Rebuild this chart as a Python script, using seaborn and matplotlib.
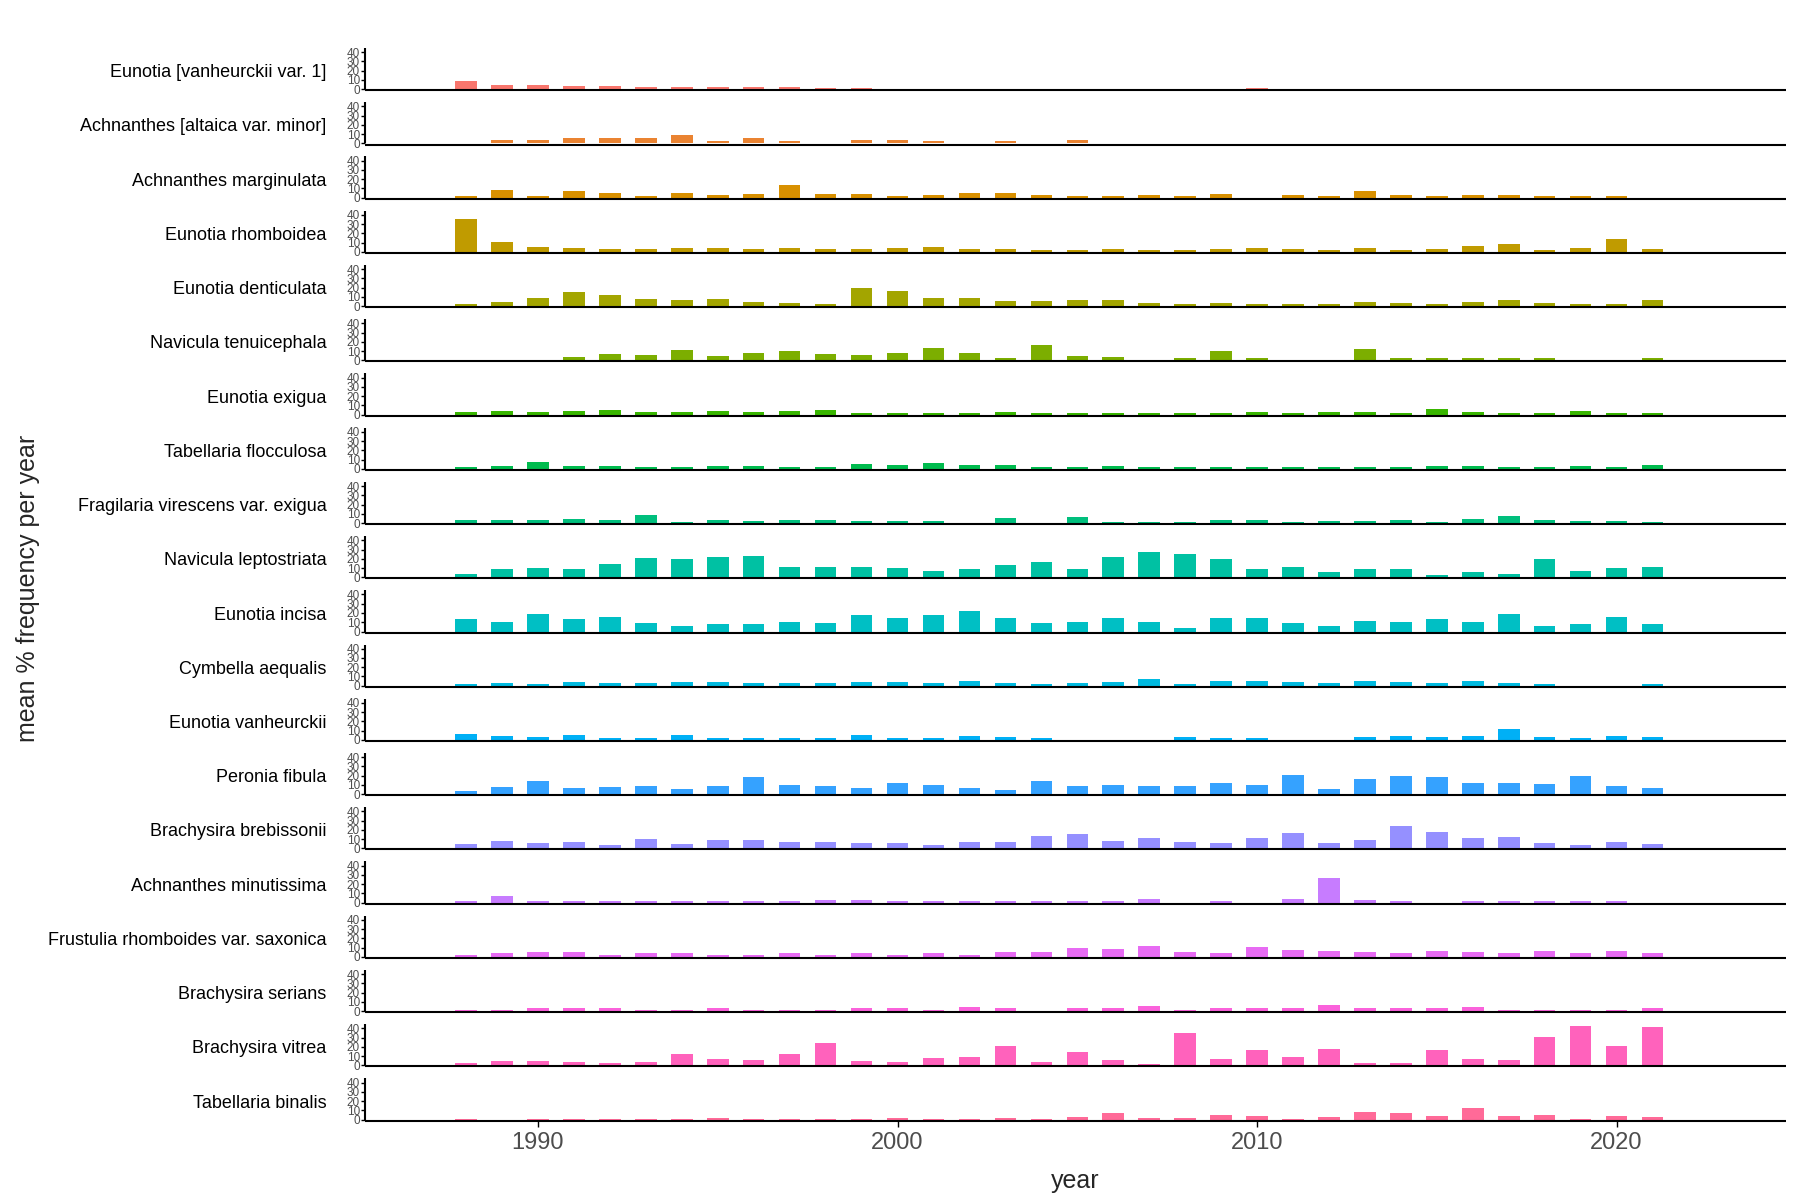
import numpy as np
import pandas as pd
import matplotlib
matplotlib.use("Agg")
import matplotlib.pyplot as plt
import seaborn as sns

N = None
years = list(range(1988, 2022))

species = [
    "Eunotia [vanheurckii var. 1]",
    "Achnanthes [altaica var. minor]",
    "Achnanthes marginulata",
    "Eunotia rhomboidea",
    "Eunotia denticulata",
    "Navicula tenuicephala",
    "Eunotia exigua",
    "Tabellaria flocculosa",
    "Fragilaria virescens var. exigua",
    "Navicula leptostriata",
    "Eunotia incisa",
    "Cymbella aequalis",
    "Eunotia vanheurckii",
    "Peronia fibula",
    "Brachysira brebissonii",
    "Achnanthes minutissima",
    "Frustulia rhomboides var. saxonica",
    "Brachysira serians",
    "Brachysira vitrea",
    "Tabellaria binalis",
]

eunotia_vh1 = [9.3, 4.8, 4.8, 3.7, 3.7, 2.6, 2.6, 2.6, 2.6, 2.6, 1.5, 1.5,
               N, N, N, N, N, N, N, N, N, N, 1.5, N, N, N, N, N, N, N, N, N, N, N]
achn_altaica = [N, 3.3, 3.3, 5.5, 5.5, 5.5, 8.9, 2.2, 5.5, 2.2, N, 3.3, 3.3, 2.2, N, 2.2, N, 3.3,
                N, N, N, N, N, N, N, N, N, N, N, N, N, N, N, N]
achn_marginulata = [2.2, 7.8, 2.2, 6.7, 5.5, 2.2, 5.5, 3.3, 4.4, 13.3, 4.4, 4.4, 2.2, 3.3, 5.5, 5.5,
                    3.3, 2.2, 2.2, 3.3, 2.2, 4.4, N, 3.3, 2.2, 6.7, 3.3, 2.2, 3.3, 3.3, 2.2, 2.2, 2.2, N]
eunotia_rhomboidea = [35, 10.7, 5.2, 4, 3, 3, 4, 4, 3, 4, 3, 3, 4, 5.2, 3, 3,
                      1.9, 1.9, 3, 1.9, 1.9, 3, 4, 3, 1.9, 4, 1.9, 3, 6.3, 8.5, 1.9, 4, 14, 3]
eunotia_denticulata = [2.6, 4.8, 9.3, 14.8, 11.5, 8.1, 7, 8.1, 4.8, 3.7, 2.6, 19.3, 15.9, 9.3, 9.3, 5.9,
                       5.9, 7, 7, 3.7, 2.6, 3.7, 2.6, 2.6, 2.6, 4.8, 3.7, 2.6, 4.8, 7, 3.7, 2.6, 2.6, 7]
navicula_tenuicephala = [N, N, N, 4, 7.4, 6.3, 10.7, 5.2, 8.5, 9.6, 7.4, 6.3, 8.5, 13, 8.5, 3,
                         16.3, 5.2, 4, N, 3, 9.6, 3, N, N, 11.9, 3, 3, 3, 3, 3, N, N, 3]
eunotia_exigua = [2.6, 3.7, 2.6, 3.7, 4.8, 2.6, 2.6, 3.7, 2.6, 3.7, 4.8, 1.5, 1.5, 1.5, 1.5, 2.6,
                  1.5, 1.5, 1.5, 1.5, 1.5, 1.5, 2.6, 1.5, 2.6, 2.6, 1.5, 5.9, 2.6, 1.5, 1.5, 3.7, 1.5, 1.5]
tabellaria_flocculosa = [1.5, 2.6, 7, 2.6, 2.6, 1.5, 1.5, 2.6, 2.6, 1.5, 1.5, 4.8, 3.7, 5.9, 3.7, 3.7,
                         1.5, 1.5, 2.6, 1.5, 1.5, 1.5, 1.5, 1.5, 1.5, 1.5, 1.5, 2.6, 2.6, 1.5, 1.5, 2.6, 1.5, 3.7]
fragilaria_virescens = [3.3, 3.3, 3.3, 4.4, 3.3, 8.9, 1.1, 3.3, 2.2, 3.3, 3.3, 2.2, 2.2, 2.2, N, 5.5,
                        N, 6.7, 1.1, 1.1, 1.1, 3.3, 3.3, 1.1, 2.2, 2.2, 3.3, 1.1, 4.4, 7.8, 3.3, 2.2, 2.2, 1.1]
navicula_leptostriata = [3.7, 9.3, 10.4, 9.3, 14.8, 20.4, 19.3, 21.5, 22.6, 11.5, 11.5, 11.5, 10.4, 7, 9.3, 13.7,
                         17, 9.3, 21.5, 27, 24.8, 19.3, 9.3, 11.5, 5.9, 9.3, 9.3, 2.6, 5.9, 3.7, 19.3, 7, 10.4, 11.5]
eunotia_incisa = [13, 10.7, 18.5, 13, 15.2, 9.6, 6.3, 8.5, 8.5, 10.7, 9.6, 17.4, 14.1, 17.4, 21.9, 14.1,
                  9.6, 10.7, 14.1, 10.7, 4.1, 14.1, 14.1, 9.6, 6.3, 11.9, 10.7, 13, 10.7, 18.5, 6.3, 8.5, 15.2, 8.5]
cymbella_aequalis = [1.5, 2.6, 1.5, 3.7, 2.6, 2.6, 3.7, 3.7, 2.6, 2.6, 2.6, 3.7, 3.7, 2.6, 4.8, 2.6,
                     1.5, 2.6, 3.7, 7, 1.5, 4.8, 4.8, 3.7, 2.6, 4.8, 3.7, 2.6, 4.8, 2.6, 1.5, N, N, 1.5]
eunotia_vanheurckii = [6.3, 4.1, 3, 5.2, 1.9, 1.9, 5.2, 1.9, 1.9, 1.9, 1.9, 5.2, 1.9, 1.9, 4.1, 3,
                       1.9, N, N, N, 3, 1.9, 1.9, N, N, 3, 4.1, 3, 4.1, 11.9, 3, 1.9, 4.1, 3]
peronia_fibula = [3.7, 8.1, 14.8, 7, 8.1, 9.3, 5.9, 9.3, 18.9, 10.4, 9.3, 7, 12.6, 10.4, 7, 4.8,
                  14.8, 9.3, 10.4, 9.3, 9.3, 12.6, 10.4, 21, 5.9, 16.3, 20, 18.9, 12.6, 12.6, 11.5, 20, 9.3, 7]
brachysira_brebissonii = [4.8, 8.1, 5.9, 7, 3.7, 10.4, 4.8, 9.3, 9.3, 7, 7, 5.9, 5.9, 3.7, 7, 7,
                          13.7, 15.9, 8.1, 11.5, 7, 5.9, 11.5, 17, 5.9, 9.3, 23.7, 18.1, 11.5, 12.6, 5.9, 3.7, 7, 4.8]
achn_minutissima = [1.5, 7, 1.5, 1.5, 1.5, 1.5, 1.5, 1.5, 1.5, 1.5, 2.6, 2.6, 1.5, 1.5, 1.5, 1.5,
                    1.5, 1.5, 1.5, 3.7, N, 1.5, N, 3.7, 27, 2.6, 1.5, N, 1.5, 1.5, 1.5, 1.5, 1.5, N]
frustulia_saxonica = [2.6, 3.7, 4.8, 4.8, 2.6, 3.7, 3.7, 2.6, 2.6, 3.7, 2.6, 3.7, 2.6, 3.7, 2.6, 4.8,
                      4.8, 9.3, 8.1, 11.5, 4.8, 3.7, 10.4, 7, 5.9, 4.8, 3.7, 5.9, 4.8, 3.7, 5.9, 3.7, 5.9, 3.7]
brachysira_serians = [1.5, 1.5, 3, 3, 3, 1.5, 1.5, 3, 1.5, 1.5, 1.5, 3, 3, 1.5, 4.1, 3,
                      N, 3, 3, 5.2, 1.5, 3, 3, 3, 6.3, 3, 3, 3, 4.1, 1.5, 1.5, 1.5, 1.5, 3]
brachysira_vitrea = [2.6, 4.8, 4.8, 3.7, 2.6, 3.7, 12.6, 7, 5.9, 12.6, 23.7, 4.8, 3.7, 8.1, 9.3, 20.4,
                     3.7, 14.8, 5.9, 1.5, 34.8, 7, 17, 9.3, 18.1, 2.6, 2.6, 17, 7, 5.9, 30.4, 43, 20.4, 41.5]
tabellaria_binalis = [1.1, N, 1.1, 1.1, 1.1, 1.1, 1.1, 2.2, 1.1, 1.1, 1.1, 1.1, 2.2, 1.1, 1.1, 2.2,
                      1.1, 3.3, 6.7, 2.2, 2.2, 5.5, 4.4, 1.1, 3.3, 7.8, 6.7, 4.4, 12.2, 4.4, 5.5, 1.1, 4.4, 3.3]

series = [eunotia_vh1, achn_altaica, achn_marginulata, eunotia_rhomboidea, eunotia_denticulata,
          navicula_tenuicephala, eunotia_exigua, tabellaria_flocculosa, fragilaria_virescens,
          navicula_leptostriata, eunotia_incisa, cymbella_aequalis, eunotia_vanheurckii,
          peronia_fibula, brachysira_brebissonii, achn_minutissima, frustulia_saxonica,
          brachysira_serians, brachysira_vitrea, tabellaria_binalis]

x_ticks = [1990, 2000, 2010, 2020]
y_ticks = [0, 10, 20, 30, 40]


def hcl_to_hex(h, c=100.0, l=65.0):
    hr = np.deg2rad(h)
    u, v = c * np.cos(hr), c * np.sin(hr)
    Xn, Yn, Zn = 95.047, 100.0, 108.883
    un = 4 * Xn / (Xn + 15 * Yn + 3 * Zn)
    vn = 9 * Yn / (Xn + 15 * Yn + 3 * Zn)
    Y = Yn * ((l + 16) / 116) ** 3
    up = u / (13 * l) + un
    vp = v / (13 * l) + vn
    X = Y * 9 * up / (4 * vp)
    Z = Y * (12 - 3 * up - 20 * vp) / (4 * vp)
    xyz = np.array([X, Y, Z]) / 100
    M = np.array([[3.2404542, -1.5371385, -0.4985314],
                  [-0.9692660, 1.8760108, 0.0415560],
                  [0.0556434, -0.2040259, 1.0572252]])
    rgb = M @ xyz
    rgb = np.where(rgb <= 0.0031308, 12.92 * rgb,
                   1.055 * np.power(np.clip(rgb, 0, None), 1 / 2.4) - 0.055)
    rgb = np.clip(rgb, 0, 1)
    return "#%02x%02x%02x" % tuple(int(round(x * 255)) for x in rgb)


n = len(species)
hues = np.linspace(15, 375, n + 1)[:-1]
colors = [hcl_to_hex(h) for h in hues]

sns.set_theme(style="ticks")
plt.rcParams["font.family"] = ["Liberation Sans", "DejaVu Sans"]

fig, axes = plt.subplots(n, 1, figsize=(18, 12), dpi=100, sharex=True)
fig.subplots_adjust(left=0.203, right=0.992, top=0.96, bottom=0.067, hspace=0.315)

SPINE_LW = 1.5

for i, (ax, name, vals, col) in enumerate(zip(axes, species, series, colors)):
    df = pd.DataFrame({"year": years, "value": vals}).dropna()
    sns.barplot(data=df, x="year", y="value", native_scale=True, color=col,
                width=0.6, errorbar=None, saturation=1, linewidth=0, ax=ax)
    ax.set_xlim(1985.2, 2024.7)
    ax.set_ylim(0, 44.5)
    ax.set_xlabel("")
    ax.set_ylabel("")
    for s in ["top", "right"]:
        ax.spines[s].set_visible(False)
    for s in ["left", "bottom"]:
        ax.spines[s].set_linewidth(SPINE_LW)
        ax.spines[s].set_color("black")
        ax.spines[s].set_capstyle("butt")
    ax.spines["bottom"].set_position(("outward", SPINE_LW / 2))
    ax.set_yticks(y_ticks)
    ax.tick_params(axis="y", labelsize=8.5, labelcolor="#4D4D4D", length=3, width=1.0,
                   color="black", pad=1)
    ax.annotate(name, xy=(0, 0.4), xycoords="axes fraction", xytext=(-28, 0),
                textcoords="offset points", ha="right", va="center", fontsize=13,
                color="black")
    if i < n - 1:
        ax.tick_params(axis="x", bottom=False, labelbottom=False)

axes[-1].set_xticks(x_ticks)
axes[-1].set_xticklabels([str(t) for t in x_ticks])
axes[-1].tick_params(axis="x", labelsize=17, labelcolor="#4D4D4D", length=4, width=1.0,
                     color="black", pad=4)

fig.text(0.5975, 0.016, "year", ha="center", va="center", fontsize=18)
fig.text(0.0155, 0.51, "mean % frequency per year", ha="center", va="center",
         rotation=90, fontsize=18)

fig.savefig("out.png", dpi=100)
